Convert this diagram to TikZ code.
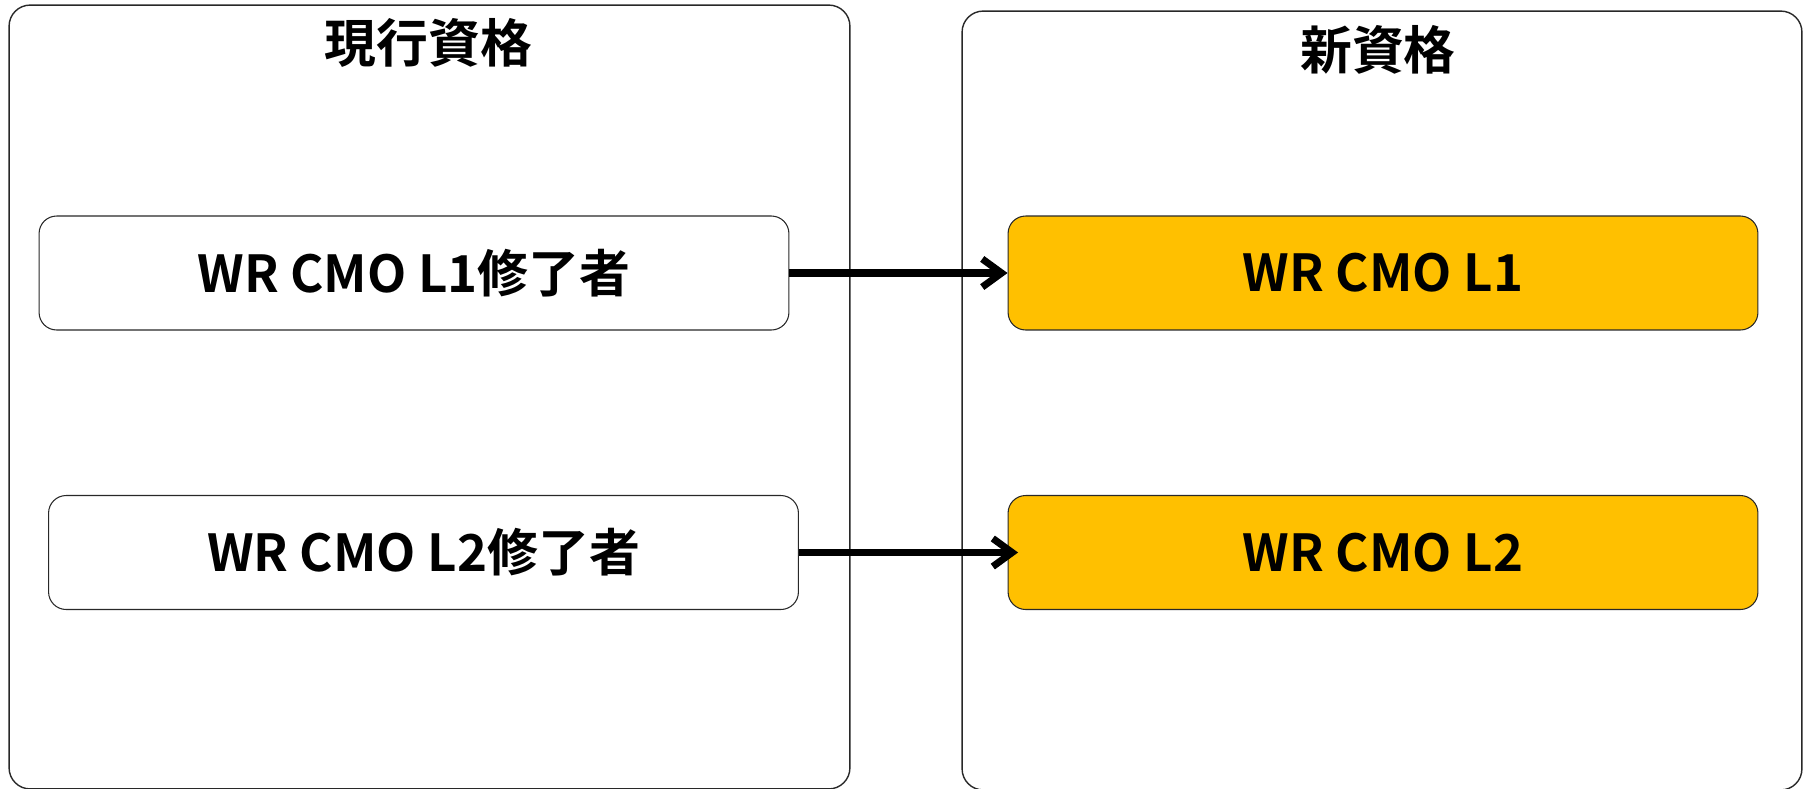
\documentclass[tikz,border=0pt]{standalone}
\usepackage{fontspec}
\setmainfont{Noto Sans CJK JP}[BoldFont={Noto Sans CJK JP Bold}]
\usepackage{xcolor}
\definecolor{newlevel}{RGB}{255,192,0}
\definecolor{rim}{RGB}{40,40,40}
\usetikzlibrary{arrows.meta}
\usetikzlibrary{positioning}

\begin{document}
\begin{tikzpicture}[x = 0.02cm, y = -0.02cm,
	panel/.style = {draw = rim, line width = 0.8pt, rounded corners = 12pt, minimum width = 16.82cm, minimum height = 15.68cm},
	level/.style = {draw = rim, line width = 0.6pt, rounded corners = 10pt, minimum width = 15cm, minimum height = 2.28cm, font = \bfseries\fontsize{29}{32}\selectfont},
	heading/.style = {inner sep = 0pt, font = \bfseries\fontsize{29.5}{32}\selectfont},
	flow/.style = {line width = 4pt, -{Straight Barb[length = 11pt, width = 16pt]}}]

	\useasboundingbox (0,0) rectangle (1808,788);

	% the two columns
	\node [panel] (current) at (429.5,397) {};
	\node [panel, minimum width = 16.8cm, minimum height = 15.58cm] (new) at (1382,400.5) {};

	\node [heading] (currenttitle) at (428.5,42.5) {現行資格};
	\node [heading] (newtitle) at (1378,50) {新資格};

	\node [level] (old1) at (414,273) {WR CMO L1修了者};
	\node [level] (old2) at (423.5,552.5) {WR CMO L2修了者};

	\node [level, fill = newlevel] (new1) at (1383,273) {WR CMO L1};
	\node [level, fill = newlevel] (new2) at (1383,552.5) {WR CMO L2};

	\draw [flow] (old1.east) -- (new1.west);
	\draw [flow, shorten > = -6pt] (old2.east) -- (new2.west);

\end{tikzpicture}
\end{document}
